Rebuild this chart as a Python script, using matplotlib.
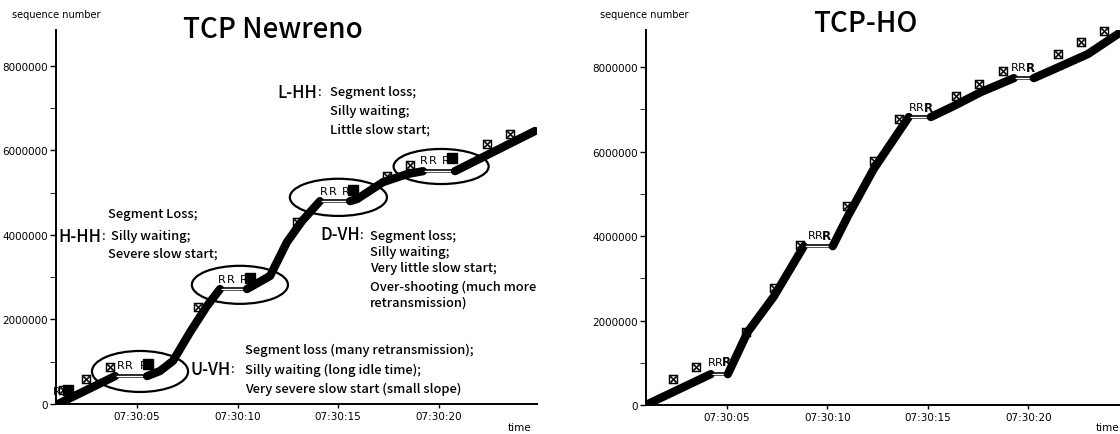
import numpy as np
import matplotlib
matplotlib.use('Agg')
import matplotlib.pyplot as plt
from matplotlib.patches import Ellipse
from matplotlib.ticker import FuncFormatter, MultipleLocator

plt.rcParams['font.family'] = ['DejaVu Sans']
JP = ['Noto Sans CJK JP', 'DejaVu Sans']

# time = seconds after 07:30:00, seq = sequence number
tick_sec = [5, 10, 15, 20]

# TCP Newreno
nr_t = [1.07, 3.91, 5.50, 6.14, 6.79, 7.64, 8.48, 9.13, 10.47, 11.62, 12.46, 13.21,
        14.10, 15.60, 15.95, 17.24, 18.43, 19.23, 20.82, 24.80]
nr_seq = [0, 660000, 660000, 780000, 1020000, 1700000, 2320000, 2720000, 2720000,
          3030000, 3830000, 4330000, 4800000, 4800000, 4850000, 5250000, 5440000,
          5510000, 5510000, 6460000]
nr_b_t = [1.32, 2.46, 3.66, 8.03, 12.96, 17.44, 18.58, 22.41, 23.56]
nr_b_seq = [330000, 590000, 880000, 2300000, 4310000, 5400000, 5660000, 6150000, 6390000]
nr_r_t = [1.02, 4.20, 4.60, 5.35, 9.23, 9.68, 10.32, 14.30, 14.75, 15.40, 19.28, 19.73, 20.37]
nr_r_seq = [310000, 920000, 920000, 920000, 2960000, 2960000, 2960000, 5040000, 5040000,
            5040000, 5780000, 5780000, 5780000]
nr_dup_t = [1.57, 5.55, 10.62, 15.75, 20.67]
nr_dup_seq = [330000, 950000, 2980000, 5070000, 5820000]
# loss regions circled
ell_t = [5.15, 10.12, 15.02, 20.13]
ell_seq = [770000, 2820000, 4890000, 5620000]
ell_w = [4.78, 4.78, 4.83, 4.73]
ell_h = [970000, 900000, 880000, 830000]

# TCP-HO
ho_t = [0.97, 4.20, 5.05, 6.04, 7.34, 8.83, 10.27, 11.02, 12.31, 14.05, 15.15, 16.29,
        17.64, 19.28, 20.27, 21.27, 22.96, 24.60]
ho_seq = [0, 730000, 730000, 1730000, 2570000, 3760000, 3760000, 4470000, 5590000,
          6820000, 6820000, 7080000, 7410000, 7740000, 7740000, 7950000, 8310000, 8830000]
ho_b_t = [2.31, 3.46, 5.95, 7.34, 8.63, 10.97, 12.31, 13.56, 16.39, 17.54, 18.73,
          21.47, 22.61, 23.76]
ho_b_seq = [620000, 900000, 1730000, 2770000, 3790000, 4710000, 5780000, 6770000,
            7310000, 7600000, 7910000, 8310000, 8590000, 8850000]
ho_r_t = [4.25, 4.60, 9.23, 9.58, 14.25, 14.60, 19.33, 19.68]
ho_r_seq = [1020000, 1020000, 4020000, 4020000, 7050000, 7050000, 8000000, 8000000]
ho_rb_t = [5.00, 9.98, 15.05, 20.12]
ho_rb_seq = [1020000, 4020000, 7050000, 8000000]

W, H = 1120, 435
fig = plt.figure(figsize=(11.2, 4.35), dpi=100)
ax1 = fig.add_axes([56 / W, 30 / H, 481 / W, 374 / H])
ax2 = fig.add_axes([646 / W, 29 / H, 474 / W, 375 / H])


def style(ax, xlim, ylim):
    for s in ['top', 'right']:
        ax.spines[s].set_visible(False)
    for s in ['left', 'bottom']:
        ax.spines[s].set_linewidth(1.4)
    ax.set_xlim(*xlim)
    ax.set_ylim(*ylim)
    ax.set_xticks(tick_sec)
    ax.xaxis.set_major_formatter(FuncFormatter(lambda v, p: '07:30:%02d' % round(v)))
    ax.set_yticks(np.arange(0, 9e6, 2e6))
    ax.yaxis.set_minor_locator(MultipleLocator(1e6))
    ax.yaxis.set_major_formatter(FuncFormatter(lambda v, p: '%d' % v))
    ax.tick_params(labelsize=7.5, width=1, pad=2)
    ax.tick_params(axis='y', which='both', length=4)
    ax.tick_params(axis='x', length=3)


def draw_curve(ax, t, s):
    t = np.asarray(t)
    s = np.asarray(s)
    start = 0
    for i in range(len(s) - 1):
        if s[i + 1] == s[i]:
            ax.plot(t[start:i + 1], s[start:i + 1], color='k', lw=6,
                    solid_capstyle='round', solid_joinstyle='round')
            ax.plot(t[i:i + 2], s[i:i + 2], color='k', lw=2.6)
            ax.plot(t[i:i + 2], s[i:i + 2], color='white', lw=1.0)
            ax.plot(t[i:i + 2], s[i:i + 2], ls='none', marker='x', ms=3, mew=0.8, color='k')
            start = i + 1
    ax.plot(t[start:], s[start:], color='k', lw=6,
            solid_capstyle='round', solid_joinstyle='round')


style(ax1, (0.97, 24.90), (0, 8.85e6))
style(ax2, (0.98, 24.56), (0, 8.88e6))

draw_curve(ax1, nr_t, nr_seq)
draw_curve(ax2, ho_t, ho_seq)

for ax, bt, bs in [(ax1, nr_b_t, nr_b_seq), (ax2, ho_b_t, ho_b_seq)]:
    ax.plot(bt, bs, ls='none', marker='$\\boxtimes$', ms=6.5, color='k',
            mew=0.3, clip_on=False)

for t, s in zip(nr_r_t, nr_r_seq):
    ax1.text(t, s, 'R', fontsize=8, ha='center', va='center')
ax1.plot(nr_dup_t, nr_dup_seq, ls='none', marker='s', ms=6.5, color='k')
for t, s in zip(ho_r_t, ho_r_seq):
    ax2.text(t, s, 'R', fontsize=8, ha='center', va='center')
for t, s in zip(ho_rb_t, ho_rb_seq):
    ax2.text(t, s, 'R', fontsize=8.5, ha='center', va='center', fontweight='bold')

for t, s, w, h in zip(ell_t, ell_seq, ell_w, ell_h):
    ax1.add_patch(Ellipse((t, s), w, h, fill=False, lw=1.6, ec='k'))

# annotations
body = dict(fontsize=9.3, family=JP, va='center', ha='left', fontweight='medium')
big = dict(fontsize=12, family=JP, va='center', ha='left', fontweight='medium')


def label(x, y, name):
    lab = ax1.text(x, y, name, **big)
    ax1.annotate(':', xy=(1, 0.5), xycoords=lab, xytext=(0.5, 0), textcoords='offset points',
                 fontsize=9.3, family=JP, va='center', ha='left')


label(11.97, 7.39e6, 'L-HH')
ax1.text(14.61, 7.39e6, 'Segment loss;', **body)
ax1.text(14.61, 6.94e6, 'Silly waiting;', **body)
ax1.text(14.61, 6.51e6, 'Little slow start;', **body)

ax1.text(3.56, 4.50e6, 'Segment Loss;', **body)
label(1.10, 3.98e6, 'H-HH')
ax1.text(3.70, 3.98e6, 'Silly waiting;', **body)
ax1.text(3.56, 3.57e6, 'Severe slow start;', **body)

label(14.10, 4.02e6, 'D-VH')
for y, line in zip([3.98e6, 3.62e6, 3.22e6, 2.79e6, 2.41e6],
                   ['Segment loss;', 'Silly waiting;', 'Very little slow start;',
                    'Over-shooting (much more', 'retransmission)']):
    ax1.text(16.59, y, line, **body)

ax1.text(10.37, 1.30e6, 'Segment loss (many retransmission);', **body)
label(7.64, 0.83e6, 'U-VH')
ax1.text(10.37, 0.83e6, 'Silly waiting (long idle time);', **body)
ax1.text(10.37, 0.36e6, 'Very severe slow start (small slope)', **body)

# titles and axis labels
fig.text(273 / W, 1 - 30 / H, 'TCP Newreno', fontsize=20, family=JP, ha='center',
         va='center', fontweight='medium')
fig.text(865 / W, 1 - 24 / H, 'TCP-HO', fontsize=20, family=JP, ha='center',
         va='center', fontweight='medium')
fig.text(12 / W, 1 - 15 / H, 'sequence number', fontsize=7, ha='left', va='center')
fig.text(600 / W, 1 - 15 / H, 'sequence number', fontsize=7, ha='left', va='center')
fig.text(531 / W, 1 - 428 / H, 'time', fontsize=7.5, ha='right', va='center')
fig.text(1119 / W, 1 - 428 / H, 'time', fontsize=7.5, ha='right', va='center')

fig.savefig('out.png', dpi=100)
